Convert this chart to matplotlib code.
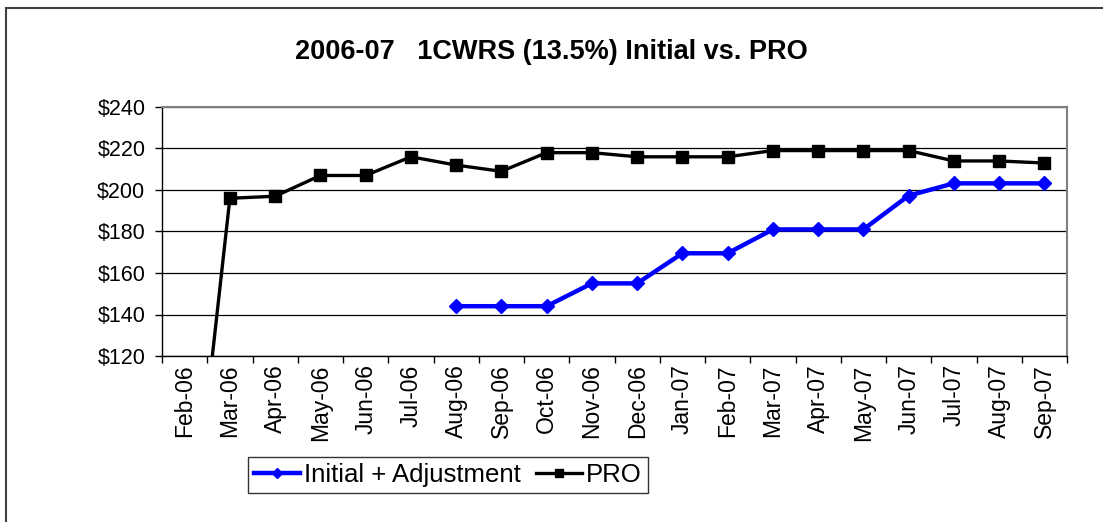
import numpy as np
import matplotlib
matplotlib.use("Agg")
from matplotlib import pyplot as plt
from matplotlib.patches import Rectangle

# datos del gráfico
months = ["Feb-06", "Mar-06", "Apr-06", "May-06", "Jun-06", "Jul-06", "Aug-06",
          "Sep-06", "Oct-06", "Nov-06", "Dec-06", "Jan-07", "Feb-07", "Mar-07",
          "Apr-07", "May-07", "Jun-07", "Jul-07", "Aug-07", "Sep-07"]
initial_adj = [np.nan, np.nan, np.nan, np.nan, np.nan, np.nan, 144, 144, 144,
               155, 155, 169.5, 169.5, 181, 181, 181, 197.3, 203.2, 203.2, 203.2]
pro = [0, 196, 197, 207, 207, 216, 212, 209, 218, 218, 216, 216, 216, 219,
       219, 219, 219, 214, 214, 213]
yticks = [120, 140, 160, 180, 200, 220, 240]

plt.rcParams['font.family'] = ['Liberation Sans', 'DejaVu Sans']

W, H = 1103, 522
fig = plt.figure(figsize=(W / 100, H / 100), dpi=100)
ax = fig.add_axes([162 / W, 1 - 356 / H, (1067 - 162) / W, (356 - 107) / H])

x = np.arange(len(months))
ax.plot(x, initial_adj, color='#0000ff', linewidth=3.2, marker='D', markersize=7,
        label='Initial + Adjustment', zorder=3)
ax.plot(x, pro, color='black', linewidth=2.4, marker='s', markersize=8.5,
        label='PRO', zorder=4)

ax.set_xlim(-0.5, len(months) - 0.5)
ax.set_ylim(120, 240)

# ejes
ax.set_yticks(yticks, [f"${v}" for v in yticks], fontsize=15.5)
ax.set_xticks(x, months, rotation=90, fontsize=16.5)
ax.set_xticks(np.arange(len(months) + 1) - 0.5, minor=True)
ax.tick_params(axis='x', which='major', length=0, pad=6)
ax.tick_params(axis='x', which='minor', length=5, width=1, direction='out')
ax.tick_params(axis='y', length=5, width=1, direction='out', pad=7)

ax.grid(axis='y', color='black', linewidth=0.9)
ax.set_axisbelow(True)
for s in ['top', 'right']:
    ax.spines[s].set_color('#808080')
    ax.spines[s].set_linewidth(1.5)
for s in ['left', 'bottom']:
    ax.spines[s].set_color('black')
    ax.spines[s].set_linewidth(1)

fig.text(551 / W, 1 - 52 / H, "2006-07   1CWRS (13.5%) Initial vs. PRO",
         ha='center', va='center', fontsize=19.5, fontweight='bold')

leg = fig.legend(loc='center', bbox_to_anchor=(448 / W, 1 - 475 / H), ncol=2,
                 frameon=True, fancybox=False, fontsize=18.5, handlelength=1.8,
                 handletextpad=0.15, columnspacing=0.6, borderpad=0.25,
                 markerscale=0.7, borderaxespad=0)
leg.get_frame().set_edgecolor('black')
leg.get_frame().set_linewidth(1)

# borde exterior del gráfico
fig.patches.append(Rectangle((6 / W, -0.1), 1.2, 1 - 8 / H + 0.1,
                             transform=fig.transFigure, fill=False,
                             edgecolor='#404040', linewidth=1.5))

fig.savefig("out.png", dpi=100)
